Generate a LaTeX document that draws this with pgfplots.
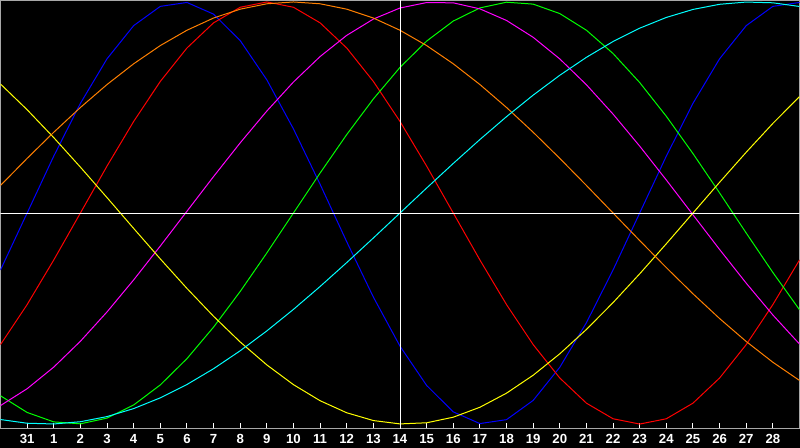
\documentclass[border=0pt]{standalone}
\usepackage{fontspec}
\setmainfont{Liberation Sans}
\usepackage{pgfplots}
\usepackage{pgfplotstable}
\pgfplotsset{compat=1.18}

\definecolor{framegray}{RGB}{168,168,168}
\definecolor{cphy}{RGB}{0,0,255}
\definecolor{cemo}{RGB}{255,0,0}
\definecolor{cint}{RGB}{0,255,0}
\definecolor{cintu}{RGB}{255,0,255}
\definecolor{caes}{RGB}{255,255,0}
\definecolor{cawa}{RGB}{255,128,0}
\definecolor{cspi}{RGB}{0,255,255}

% day index (31 = 0), then physical, emotional, intellectual,
% intuitive, aesthetic, awareness, spiritual
\pgfplotstableread{
i   phy     emo     int     intu    aes     awa     spi
-1  -0.2698 -0.6235 -0.8660 -0.9124 0.6112  0.1305  -0.9786
0   0       -0.4339 -0.9450 -0.8326 0.4894  0.2588  -0.9961
1   0.2698  -0.2225 -0.9898 -0.7301 0.3572  0.3827  -0.9996
2   0.5196  0       -0.9989 -0.6077 0.2174  0.5     -0.9890
3   0.7308  0.2225  -0.9718 -0.4686 0.0730  0.6088  -0.9646
4   0.8879  0.4339  -0.9096 -0.3169 -0.0730 0.7071  -0.9267
5   0.9791  0.6235  -0.8146 -0.1564 -0.2174 0.7934  -0.8758
6   0.9977  0.7818  -0.6901 0.0083  -0.3572 0.8660  -0.8126
7   0.9423  0.9010  -0.5406 0.1728  -0.4894 0.9239  -0.7378
8   0.8170  0.9749  -0.3717 0.3325  -0.6112 0.9659  -0.6527
9   0.6310  1       -0.1893 0.4832  -0.7197 0.9914  -0.5586
10  0.3984  0.9749  0       0.6208  -0.8133 1       -0.4566
11  0.1362  0.9010  0.1893  0.7414  -0.8894 0.9914  -0.3482
12  -0.1362 0.7818  0.3717  0.8418  -0.9465 0.9659  -0.2349
13  -0.3984 0.6235  0.5406  0.9190  -0.9834 0.9239  -0.1183
14  -0.6310 0.4339  0.6901  0.9714  -0.9993 0.8660  0
15  -0.8170 0.2225  0.8146  0.9972  -0.9940 0.7934  0.1183
16  -0.9423 0       0.9096  0.9959  -0.9675 0.7071  0.2349
17  -0.9977 -0.2225 0.9718  0.9673  -0.9204 0.6088  0.3482
18  -0.9791 -0.4339 0.9989  0.9124  -0.8536 0.5     0.4566
19  -0.8879 -0.6235 0.9898  0.8326  -0.7686 0.3827  0.5586
20  -0.7308 -0.7818 0.9450  0.7301  -0.6671 0.2588  0.6527
21  -0.5196 -0.9010 0.8660  0.6077  -0.5517 0.1305  0.7378
22  -0.2698 -0.9749 0.7557  0.4686  -0.4245 0       0.8126
23  0       -1      0.6182  0.3169  -0.2881 -0.1305 0.8758
24  0.2698  -0.9749 0.4582  0.1564  -0.1456 -0.2588 0.9267
25  0.5196  -0.9010 0.2817  -0.0083 0       -0.3827 0.9646
26  0.7308  -0.7818 0.0951  -0.1728 0.1456  -0.5    0.9890
27  0.8879  -0.6235 -0.0951 -0.3325 0.2881  -0.6088 0.9996
28  0.9791  -0.4339 -0.2817 -0.4832 0.4245  -0.7071 0.9961
29  0.9977  -0.2225 -0.4582 -0.6208 0.5517  -0.7934 0.9786
}\bio

\begin{document}
\begin{tikzpicture}
\path[use as bounding box] (0,0) rectangle (400pt,224pt);
\fill[black] (0,0) rectangle (400pt,224pt);
\begin{axis}[
    at={(0.25pt,9.75pt)}, anchor=south west,
    width=399.5pt, height=214pt, scale only axis,
    xmin=-1, xmax=29,
    ymin=-1.021, ymax=1.007,
    axis line style={framegray, line width=0.5pt},
    xtick={0,...,28},
    xticklabels={31,1,2,3,4,5,6,7,8,9,10,11,12,13,14,15,16,17,18,19,20,21,22,23,24,25,26,27,28},
    xtick pos=left,
    tick align=inside,
    major tick length=2.5pt,
    tick style={white, line width=0.5pt},
    ytick=\empty,
    xticklabel style={font=\fontsize{6.6}{7}\selectfont\bfseries, text=white,
        anchor=base, inner sep=0pt, yshift=-7.5pt},
    every axis plot/.append style={line width=0.5pt, no markers, sharp plot},
]
\addplot[cphy]  table[x=i, y=phy]  {\bio};
\addplot[cemo]  table[x=i, y=emo]  {\bio};
\addplot[cint]  table[x=i, y=int]  {\bio};
\addplot[cintu] table[x=i, y=intu] {\bio};
\addplot[caes]  table[x=i, y=aes]  {\bio};
\addplot[cawa]  table[x=i, y=awa]  {\bio};
\addplot[cspi]  table[x=i, y=spi]  {\bio};
\addplot[white] coordinates {(-1,0) (29,0)};
\addplot[white] coordinates {(14,-1.1) (14,1.1)};
\end{axis}
\end{tikzpicture}
\end{document}
